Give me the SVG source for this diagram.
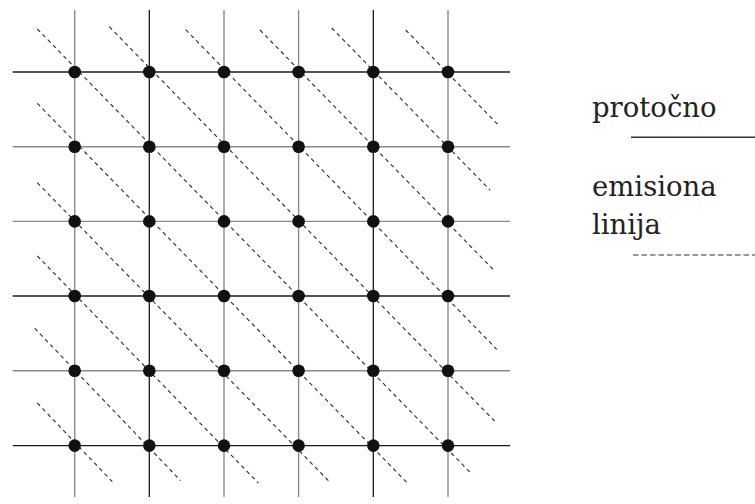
<svg xmlns="http://www.w3.org/2000/svg" width="755" height="504" viewBox="0 0 755 504">
<style>
.g{stroke:#8a8a8a;stroke-width:1.4;fill:none}
.k{stroke:#1a1a1a;stroke-width:1.3;fill:none}
.d{stroke:#2a2a2a;stroke-width:1.1;stroke-dasharray:4 3.5;fill:none}
.n{fill:#111}
.t{font-family:"DejaVu Serif","Liberation Serif",serif;font-size:27.5px;fill:#222}
</style>
<rect width="755" height="504" fill="#fff"/>
<g id="connectors">
<g id="grid">
<line class="g" x1="74.7" y1="10" x2="74.7" y2="497"/>
<line class="k" x1="149.3" y1="10" x2="149.3" y2="497"/>
<line class="g" x1="224" y1="10" x2="224" y2="497"/>
<line class="g" x1="298.6" y1="10" x2="298.6" y2="497"/>
<line class="k" x1="373.3" y1="10" x2="373.3" y2="497"/>
<line class="g" x1="448" y1="10" x2="448" y2="497"/>
<line class="k" x1="12.7" y1="72" x2="510" y2="72"/>
<line class="g" x1="12.7" y1="146.7" x2="510" y2="146.7"/>
<line class="g" x1="12.7" y1="221.4" x2="510" y2="221.4"/>
<line class="k" x1="12.7" y1="296" x2="510" y2="296"/>
<line class="g" x1="12.7" y1="370.8" x2="510" y2="370.8"/>
<line class="k" x1="12.7" y1="445.6" x2="510" y2="445.6"/>
</g>
<g id="emission-lines">
<line class="d" x1="405.7" y1="30" x2="498.3" y2="125"/>
<line class="d" x1="331.7" y1="28" x2="490" y2="190"/>
<line class="d" x1="260" y1="30" x2="494.3" y2="270.7"/>
<line class="d" x1="185.7" y1="29.7" x2="496.7" y2="349.3"/>
<line class="d" x1="109.3" y1="26.7" x2="496.7" y2="423.3"/>
<line class="d" x1="37.3" y1="29" x2="470" y2="472.3"/>
<line class="d" x1="37.3" y1="103.3" x2="408.3" y2="484"/>
<line class="d" x1="37.3" y1="182.7" x2="330.7" y2="483"/>
<line class="d" x1="37.3" y1="256" x2="258.3" y2="483"/>
<line class="d" x1="34.7" y1="328.3" x2="180.7" y2="480.7"/>
<line class="d" x1="37.3" y1="403" x2="112.3" y2="481.7"/>
</g>
</g>
<g id="nodes">
<g id="n00"><circle class="n" cx="74.7" cy="72" r="6.3"/></g>
<g id="n10"><circle class="n" cx="149.3" cy="72" r="6.3"/></g>
<g id="n20"><circle class="n" cx="224" cy="72" r="6.3"/></g>
<g id="n30"><circle class="n" cx="298.6" cy="72" r="6.3"/></g>
<g id="n40"><circle class="n" cx="373.3" cy="72" r="6.3"/></g>
<g id="n50"><circle class="n" cx="448" cy="72" r="6.3"/></g>
<g id="n01"><circle class="n" cx="74.7" cy="146.7" r="6.3"/></g>
<g id="n11"><circle class="n" cx="149.3" cy="146.7" r="6.3"/></g>
<g id="n21"><circle class="n" cx="224" cy="146.7" r="6.3"/></g>
<g id="n31"><circle class="n" cx="298.6" cy="146.7" r="6.3"/></g>
<g id="n41"><circle class="n" cx="373.3" cy="146.7" r="6.3"/></g>
<g id="n51"><circle class="n" cx="448" cy="146.7" r="6.3"/></g>
<g id="n02"><circle class="n" cx="74.7" cy="221.4" r="6.3"/></g>
<g id="n12"><circle class="n" cx="149.3" cy="221.4" r="6.3"/></g>
<g id="n22"><circle class="n" cx="224" cy="221.4" r="6.3"/></g>
<g id="n32"><circle class="n" cx="298.6" cy="221.4" r="6.3"/></g>
<g id="n42"><circle class="n" cx="373.3" cy="221.4" r="6.3"/></g>
<g id="n52"><circle class="n" cx="448" cy="221.4" r="6.3"/></g>
<g id="n03"><circle class="n" cx="74.7" cy="296" r="6.3"/></g>
<g id="n13"><circle class="n" cx="149.3" cy="296" r="6.3"/></g>
<g id="n23"><circle class="n" cx="224" cy="296" r="6.3"/></g>
<g id="n33"><circle class="n" cx="298.6" cy="296" r="6.3"/></g>
<g id="n43"><circle class="n" cx="373.3" cy="296" r="6.3"/></g>
<g id="n53"><circle class="n" cx="448" cy="296" r="6.3"/></g>
<g id="n04"><circle class="n" cx="74.7" cy="370.8" r="6.3"/></g>
<g id="n14"><circle class="n" cx="149.3" cy="370.8" r="6.3"/></g>
<g id="n24"><circle class="n" cx="224" cy="370.8" r="6.3"/></g>
<g id="n34"><circle class="n" cx="298.6" cy="370.8" r="6.3"/></g>
<g id="n44"><circle class="n" cx="373.3" cy="370.8" r="6.3"/></g>
<g id="n54"><circle class="n" cx="448" cy="370.8" r="6.3"/></g>
<g id="n05"><circle class="n" cx="74.7" cy="445.6" r="6.3"/></g>
<g id="n15"><circle class="n" cx="149.3" cy="445.6" r="6.3"/></g>
<g id="n25"><circle class="n" cx="224" cy="445.6" r="6.3"/></g>
<g id="n35"><circle class="n" cx="298.6" cy="445.6" r="6.3"/></g>
<g id="n45"><circle class="n" cx="373.3" cy="445.6" r="6.3"/></g>
<g id="n55"><circle class="n" cx="448" cy="445.6" r="6.3"/></g>
</g>
<g id="legend">
<text class="t" x="592" y="117">protočno</text>
<line x1="631" y1="137.3" x2="755" y2="137.3" stroke="#333" stroke-width="1.4"/>
<text class="t" x="592" y="196">emisiona</text>
<text class="t" x="592" y="234">linija</text>
<line x1="633" y1="255" x2="755" y2="255" stroke="#333" stroke-width="1.1" stroke-dasharray="5.5 3"/>
</g>
</svg>
